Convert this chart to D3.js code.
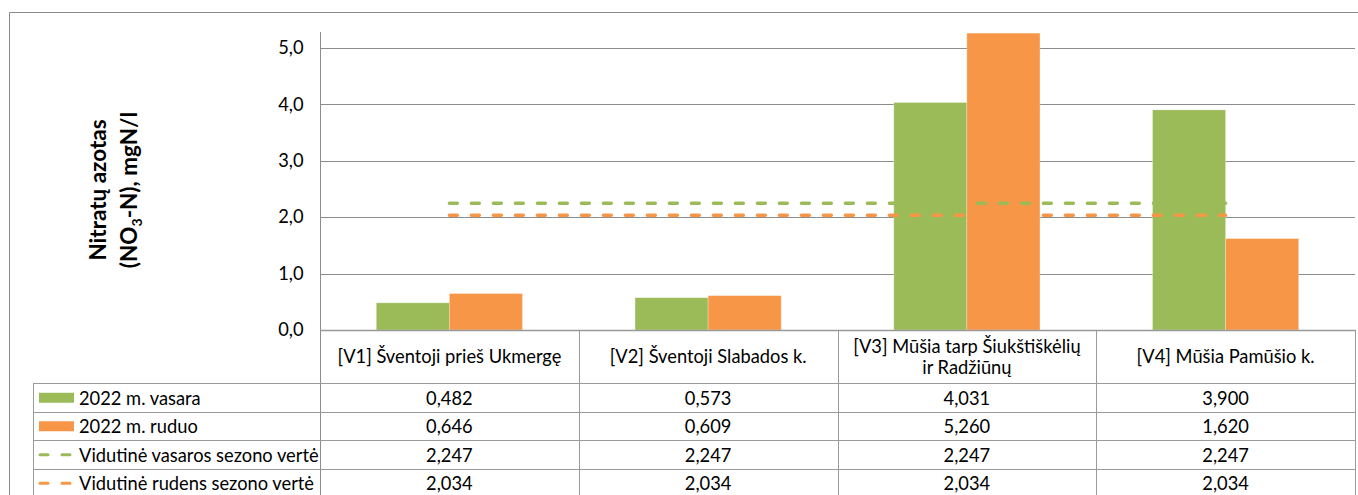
<!DOCTYPE html>
<html>
<head>
<meta charset="utf-8">
<script src="https://cdn.jsdelivr.net/npm/d3@7"></script>
<style>
  html, body { margin: 0; padding: 0; background: #fff; }
  svg { display: block; }
  text { font-family: Lato, "Open Sans", sans-serif; fill: #000; }
</style>
</head>
<body>
<svg id="chart" width="1358" height="495"></svg>
<script>
// ---- data ----
const categories = [
  ["[V1] Šventoji prieš Ukmergę"],
  ["[V2] Šventoji Slabados k."],
  ["[V3] Mūšia tarp Šiukštiškėlių", "ir Radžiūnų"],
  ["[V4] Mūšia Pamūšio k."]
];
const categoryKeys = ["V1", "V2", "V3", "V4"];
const seriesNames = ["2022 m. vasara", "2022 m. ruduo", "Vidutinė vasaros sezono vertė", "Vidutinė rudens sezono vertė"];
const summer2022 = [0.482, 0.573, 4.031, 3.900];
const autumn2022 = [0.646, 0.609, 5.260, 1.620];
const avgSummer = [2.247, 2.247, 2.247, 2.247];
const avgAutumn = [2.034, 2.034, 2.034, 2.034];
const yTicks = [0, 1, 2, 3, 4, 5];
const yAxisTitle = ["Nitratų azotas", "(NO", "3", "-N), mgN/l"];

const seriesValues = [summer2022, autumn2022, avgSummer, avgAutumn];
const seriesTypes = ["bar", "bar", "line", "line"];
const colors = ["#9BBB59", "#F79646", "#9BBB59", "#F79646"];

const svg = d3.select("#chart");
const fmt = v => v.toFixed(1).replace(".", ",");
const fmt3 = v => v.toFixed(3).replace(".", ",");
const FS = "18.3px";

// ---- scales ----
const plotLeft = 320, plotRight = 1355, plotBottom = 330, plotTop = 32;
const y = d3.scaleLinear().domain([0, 5.28]).range([plotBottom, plotTop]);
const x = d3.scaleBand().domain(categoryKeys).range([plotLeft, plotRight]).padding(0);
const barSeries = seriesNames.filter((s, i) => seriesTypes[i] === "bar");
const x1 = d3.scaleBand().domain(barSeries).range([0, x.bandwidth()]).paddingInner(0).paddingOuter(0.77);
const rowScale = d3.scaleBand().domain(seriesNames).range([383, 497]);

// outer frame
svg.append("path")
  .attr("d", "M9.5,495 V12.5 H1358")
  .attr("fill", "none").attr("stroke", "#8a8a8a").attr("stroke-width", 1);

// gridlines
svg.append("g").selectAll("line").data(yTicks.filter(t => t > 0)).join("line")
  .attr("x1", plotLeft).attr("x2", plotRight)
  .attr("y1", d => Math.round(y(d)) + 0.5).attr("y2", d => Math.round(y(d)) + 0.5)
  .attr("stroke", "#8c8c8c").attr("stroke-width", 1);

// y axis via d3
const yAxis = d3.axisLeft(y).tickValues(yTicks).tickFormat(fmt).tickSize(0).tickPadding(17);
const yg = svg.append("g").attr("transform", `translate(${plotLeft + 0.5},0)`).call(yAxis);
yg.select(".domain").remove();
yg.selectAll("text").style("font-family", "Lato, sans-serif").style("font-size", FS).attr("fill", "#000");
svg.append("line").attr("x1", plotLeft + 0.5).attr("x2", plotLeft + 0.5)
  .attr("y1", plotTop).attr("y2", 497).attr("stroke", "#8c8c8c").attr("stroke-width", 1);

// bars
const barG = svg.append("g");
seriesNames.forEach((s, si) => {
  if (seriesTypes[si] !== "bar") return;
  barG.selectAll(null).data(seriesValues[si]).join("rect")
    .attr("x", (d, i) => x(categoryKeys[i]) + x1(s))
    .attr("width", x1.bandwidth())
    .attr("y", d => y(d))
    .attr("height", d => y(0) - y(d))
    .attr("fill", colors[si])
    .attr("stroke", "rgba(255,255,255,0.35)").attr("stroke-width", 0.8);
});

// x axis line
svg.append("line").attr("x1", plotLeft).attr("x2", plotRight + 1)
  .attr("y1", plotBottom + 0.5).attr("y2", plotBottom + 0.5)
  .attr("stroke", "#999").attr("stroke-width", 1.5);

// lines
const lineGen = d3.line().x((d, i) => x(categoryKeys[i]) + x.bandwidth() / 2).y(d => y(d));
seriesNames.forEach((s, si) => {
  if (seriesTypes[si] !== "line") return;
  svg.append("path").datum(seriesValues[si])
    .attr("d", lineGen)
    .attr("fill", "none").attr("stroke", colors[si]).attr("stroke-width", 3.4)
    .attr("stroke-dasharray", "8,14").attr("stroke-linecap", "round");
});

// axis title
const title = svg.append("text")
  .attr("transform", "translate(113,190) rotate(-90)")
  .attr("text-anchor", "middle")
  .style("font-weight", "bold").style("font-size", "22.5px");
title.append("tspan").attr("x", 0).attr("dy", "-0.32em").text(yAxisTitle[0]);
const l2 = title.append("tspan").attr("x", 0).attr("dy", "1.38em");
l2.text(yAxisTitle[1]);
title.append("tspan").style("font-size", "14px").attr("dy", "5").text(yAxisTitle[2]);
title.append("tspan").attr("dy", "-5").text(yAxisTitle[3]);

// ---- data table ----
const tableColor = "#9a9a9a";
const tg = svg.append("g");
const bounds = categoryKeys.slice(1).map(k => x(k)).concat([plotRight]);
tg.selectAll("line.v").data(bounds).join("line")
  .attr("x1", d => Math.round(d) + 0.5).attr("x2", d => Math.round(d) + 0.5)
  .attr("y1", plotBottom).attr("y2", 497).attr("stroke", tableColor);
tg.append("line").attr("x1", 33.5).attr("x2", 33.5).attr("y1", rowScale(seriesNames[0])).attr("y2", 497).attr("stroke", tableColor);
tg.selectAll("line.h").data(seriesNames).join("line")
  .attr("x1", 33).attr("x2", plotRight + 1)
  .attr("y1", d => Math.round(rowScale(d)) + 0.5).attr("y2", d => Math.round(rowScale(d)) + 0.5)
  .attr("stroke", tableColor);

// category labels
categories.forEach((lines, i) => {
  const cx = x(categoryKeys[i]) + x.bandwidth() / 2;
  const t = tg.append("text").attr("x", cx).attr("text-anchor", "middle").style("font-size", FS);
  const n = lines.length;
  lines.forEach((ln, j) => {
    t.append("tspan").attr("x", cx).attr("y", 356 + (j - (n - 1) / 2) * 21).attr("dominant-baseline", "central").text(ln);
  });
});

// values + legend keys
seriesNames.forEach((s, si) => {
  const cy = rowScale(s) + rowScale.bandwidth() / 2 + 0.5;
  tg.selectAll(null).data(seriesValues[si]).join("text")
    .attr("x", (d, i) => x(categoryKeys[i]) + x.bandwidth() / 2)
    .attr("y", cy).attr("text-anchor", "middle").attr("dominant-baseline", "central")
    .style("font-size", FS).text(d => fmt3(d));
  if (seriesTypes[si] === "bar") {
    tg.append("rect").attr("x", 39).attr("y", cy - 5).attr("width", 35).attr("height", 10).attr("fill", colors[si]);
  } else {
    tg.append("line").attr("x1", 40).attr("x2", 72).attr("y1", cy).attr("y2", cy)
      .attr("stroke", colors[si]).attr("stroke-width", 3).attr("stroke-dasharray", "8,14").attr("stroke-linecap", "round");
  }
  tg.append("text").attr("x", 79).attr("y", cy).attr("dominant-baseline", "central")
    .style("font-size", FS).text(s);
});
</script>
</body>
</html>
